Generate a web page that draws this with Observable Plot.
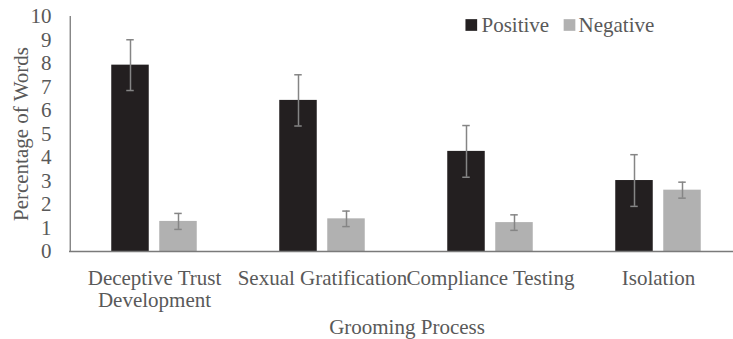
<!DOCTYPE html>
<html>
<head>
<meta charset="utf-8">
<script src="https://cdn.jsdelivr.net/npm/d3@7"></script>
<script src="https://cdn.jsdelivr.net/npm/@observablehq/plot@0.6"></script>
<style>
  body { margin: 0; background: #fff; }
</style>
</head>
<body>
<div id="chart"></div>
<script>
// Grooming process categories and their axis labels
const categories = ["Deceptive Trust Development", "Sexual Gratification", "Compliance Testing", "Isolation"];
const tickLabels = ["Deceptive Trust\nDevelopment", "Sexual Gratification", "Compliance Testing", "Isolation"];
const seriesNames = ["Positive", "Negative"];

// Percentage of words per category, with error-bar half widths
const positive = [7.93, 6.43, 4.26, 3.02];
const positiveErr = [1.08, 1.09, 1.10, 1.10];
const negative = [1.28, 1.39, 1.23, 2.61];
const negativeErr = [0.34, 0.33, 0.33, 0.34];

const yTicks = [0, 1, 2, 3, 4, 5, 6, 7, 8, 9, 10];

const rows = categories.flatMap((c, i) => [
  {category: c, series: "Positive", value: positive[i], err: positiveErr[i]},
  {category: c, series: "Negative", value: negative[i], err: negativeErr[i]}
]);

// Layout
const width = 733, height = 339;
const marginLeft = 69, marginTop = 16, marginBottom = 88;
const bandRange = [69, 743];          // category bands run slightly past the right edge
const bw = (bandRange[1] - bandRange[0]) / categories.length;
const barW = 38, barGap = 10;
const off = (barW + barGap) / 2;
const capW = 8;

const fontFamily = "'Liberation Serif', 'Times New Roman', serif";
const fs = 21;
const textColor = "#595959";
const axisColor = "#7a7a7a";
const errColor = "#858585";
const colors = ["#231f20", "#b1b1b1"];

function seriesMarks(name, sign) {
  const data = rows.filter(d => d.series === name);
  const center = bw / 2 + sign * off;
  const insetLeft = center - barW / 2;
  const insetRight = bw - center - barW / 2;
  const capInsets = {insetLeft: center - capW / 2, insetRight: bw - center - capW / 2};
  return [
    Plot.barY(data, {x: "category", y: "value", fill: "series", insetLeft, insetRight}),
    Plot.ruleX(data, {x: "category", y1: d => d.value - d.err, y2: d => d.value + d.err, dx: sign * off, stroke: errColor, strokeWidth: 1.5}),
    Plot.tickY(data, {x: "category", y: d => d.value + d.err, stroke: errColor, strokeWidth: 1.5, ...capInsets}),
    Plot.tickY(data, {x: "category", y: d => d.value - d.err, stroke: errColor, strokeWidth: 1.5, ...capInsets})
  ];
}

// Legend placed inside the plot area, top right
const legendSwatch = [401.8, 500];
const legendText = [412, 509];
const legendMarks = seriesNames.flatMap((s, i) => [
  Plot.dot([s], {frameAnchor: "top-left", dx: legendSwatch[i], dy: 8.5, symbol: "square", r: 6.6, fill: d => d, stroke: null}),
  Plot.text([s], {frameAnchor: "top-left", dx: legendText[i], dy: 8.5, text: d => d, textAnchor: "start", lineAnchor: "middle", fill: textColor, fontSize: fs})
]);

const chart = Plot.plot({
  width, height, marginLeft, marginTop, marginBottom, marginRight: 0,
  style: {fontFamily, fontSize: `${fs}px`, color: textColor, background: "#fff"},
  x: {type: "band", domain: categories, range: bandRange, padding: 0},
  y: {domain: [0, 10]},
  color: {domain: seriesNames, range: colors},
  marks: [
    ...seriesMarks("Positive", -1),
    ...seriesMarks("Negative", 1),
    Plot.ruleY([0], {stroke: axisColor, strokeWidth: 1.3}),
    Plot.ruleX([categories[0]], {x: d => d, y1: 0, y2: 10, dx: -bw / 2, stroke: axisColor, strokeWidth: 1.3}),
    Plot.axisY({ticks: yTicks, tickSize: 0, tickPadding: 18, label: null, fontSize: fs, fill: textColor}),
    Plot.axisX({tickSize: 0, tickPadding: 18, label: null, fontSize: fs, fill: textColor, lineHeight: 1.05,
      tickFormat: d => tickLabels[categories.indexOf(d)]}),
    Plot.text(["Percentage of Words"], {frameAnchor: "left", dx: -48, rotate: -90, text: d => d,
      textAnchor: "middle", lineAnchor: "middle", fill: textColor, fontSize: fs}),
    Plot.text(["Grooming Process"], {frameAnchor: "bottom", dx: 5.5, dy: 76, text: d => d,
      lineAnchor: "middle", fill: textColor, fontSize: fs}),
    ...legendMarks
  ]
});

document.getElementById("chart").appendChild(chart);
</script>
</body>
</html>
